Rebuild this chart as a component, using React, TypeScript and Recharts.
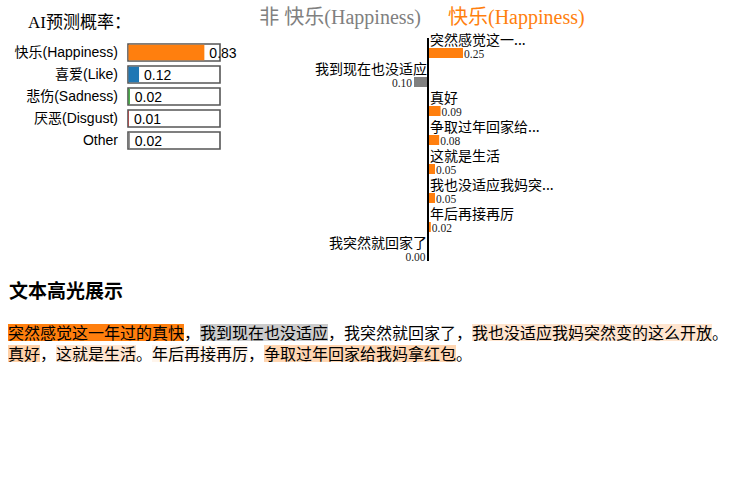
import React from "react";
import { BarChart, Bar, XAxis, YAxis, Cell, LabelList, ReferenceLine } from "recharts";

// ---- data ----
const classNames = ["快乐(Happiness)", "喜爱(Like)", "悲伤(Sadness)", "厌恶(Disgust)", "Other"];
const classProbs = [0.83, 0.12, 0.02, 0.01, 0.02];
const classColors = ["#ff7f0e", "#1f77b4", "#2ca02c", "#d62728", "#7f7f7f"];

const featureNames = [
  "突然感觉这一...",
  "我到现在也没适应",
  "真好",
  "争取过年回家给...",
  "这就是生活",
  "我也没适应我妈突...",
  "年后再接再厉",
  "我突然就回家了",
];
const featureWeights = [0.25, -0.1, 0.09, 0.08, 0.05, 0.05, 0.02, -0.003];

const predTitle = "AI预测概率：";
const negativeTitle = "非 快乐(Happiness)";
const positiveTitle = "快乐(Happiness)";
const highlightTitle = "文本高光展示";

// text segments: [text, feature index or -1]
const textLine1: [string, number][] = [
  ["突然感觉这一年过的真快", 0],
  ["，", -1],
  ["我到现在也没适应", 1],
  ["，", -1],
  ["我突然就回家了", 7],
  ["，", -1],
  ["我也没适应我妈突然变的这么开放", 5],
  ["。", -1],
];
const textLine2: [string, number][] = [
  ["真好", 2],
  ["，", -1],
  ["这就是生活", 4],
  ["。", -1],
  ["年后再接再厉", 6],
  ["，", -1],
  ["争取过年回家给我妈拿红包", 3],
  ["。", -1],
];

// ---- styles ----
const SANS = '"Liberation Sans", Arial, "Noto Sans CJK SC", sans-serif';
const CJK = '"Noto Sans CJK SC", "Noto Sans", sans-serif';
const SERIF = '"Liberation Serif", "Times New Roman", "Noto Sans CJK SC", serif';
const POS = "#ff7f0e";
const NEG = "#808080";

const probData = classNames.map((name, i) => ({ name, p: classProbs[i] }));
const featData = featureNames.map((name, i) => ({ name, w: featureWeights[i] }));
const maxAbs = Math.max(...featureWeights.map((w) => Math.abs(w)));

const InsetBar = (props: any) => {
  const { x, y, width, height, fill } = props;
  if (!width || width <= 0) return null;
  return <rect x={x + 0.5} y={y + 0.75} width={Math.max(width - 0.5, 0.5)} height={height - 1.5} fill={fill} />;
};

const ProbLabel = (props: any) => {
  const { x, y, width, height, value } = props;
  return (
    <text x={Number(x) + Number(width) + 5} y={Number(y) + Number(height) / 2 + 5} fontSize={14} fontFamily={SANS} fill="#000">
      {Number(value).toFixed(2)}
    </text>
  );
};

const FeatureLabel = (props: any) => {
  const { x, y, width, height, index } = props;
  const v = featureWeights[index];
  const nx = Number(x);
  const nw = Number(width);
  const ny = Number(y);
  const nh = Number(height);
  const left = Math.min(nx, nx + nw);
  const right = Math.max(nx, nx + nw);
  const pos = v > 0;
  const zero = pos ? left : right;
  return (
    <g>
      <text
        x={pos ? zero + 2 : zero - 1}
        y={ny - 3}
        textAnchor={pos ? "start" : "end"}
        fontSize={14}
        fontFamily={CJK}
        fill="#000"
      >
        {featureNames[index]}
      </text>
      <text
        x={pos ? right + 1 : left - 2}
        y={ny + nh - 0.5}
        textAnchor={pos ? "start" : "end"}
        fontSize={11.5}
        fontFamily={SERIF}
        fill="#222"
      >
        {Math.abs(v).toFixed(2)}
      </text>
    </g>
  );
};

const segBg = (idx: number) => {
  if (idx < 0) return "transparent";
  const w = featureWeights[idx];
  const a = Math.abs(w) / maxAbs;
  return w > 0 ? `rgba(255,127,14,${a})` : `rgba(128,128,128,${a})`;
};

const renderLine = (line: [string, number][], key: number) => (
  <div key={key} style={{ height: 21, lineHeight: "17px", whiteSpace: "nowrap", overflow: "visible" }}>
    {line.map(([t, idx], i) => (
      <span
        key={i}
        style={{
          display: "inline-block",
          verticalAlign: "top",
          height: 17,
          lineHeight: "17px",
          background: segBg(idx),
        }}
      >
        {t}
      </span>
    ))}
  </div>
);

export default function App() {
  return (
    <div style={{ position: "absolute", left: 0, top: 0, width: 750, height: 500, background: "#fff" }}>
      <svg style={{ position: "absolute", left: 0, top: 0 }} width={750} height={40}>
        <text x={28} y={28} fontSize={17} fontFamily={SERIF} fill="#000">
          {predTitle}
        </text>
        <text x={421} y={24} fontSize={20} fontFamily={SERIF} fill={NEG} textAnchor="end">
          {negativeTitle}
        </text>
        <text x={448} y={24} fontSize={20} fontFamily={SERIF} fill={POS} textAnchor="start">
          {positiveTitle}
        </text>
      </svg>

      <div style={{ position: "absolute", left: 0, top: 0 }}>
        <BarChart
          width={250}
          height={160}
          layout="vertical"
          data={probData}
          margin={{ top: 41, right: 30, bottom: 9, left: 0 }}
          barCategoryGap={0}
        >
          <XAxis type="number" domain={[0, 1]} hide />
          <YAxis
            type="category"
            dataKey="name"
            width={128}
            axisLine={false}
            tickLine={false}
            tickMargin={4}
            interval={0}
            tick={{ fontSize: 14, fill: "#000", fontFamily: SANS }}
          />
          <Bar
            dataKey="p"
            barSize={17}
            isAnimationActive={false}
            background={{ fill: "#fff", stroke: "#555", strokeWidth: 1.6 }}
            shape={InsetBar}
          >
            {probData.map((d, i) => (
              <Cell key={i} fill={classColors[i]} />
            ))}
            <LabelList dataKey="p" content={ProbLabel} />
          </Bar>
        </BarChart>
      </div>

      <div style={{ position: "absolute", left: 280, top: 0 }}>
        <BarChart
          width={300}
          height={275}
          layout="vertical"
          data={featData}
          margin={{ top: 38, right: 12, bottom: 14, left: 8 }}
          barCategoryGap={0}
        >
          <XAxis type="number" domain={[-1, 1]} hide allowDataOverflow />
          <YAxis type="category" dataKey="name" hide padding={{ top: 0, bottom: -9 }} />
          <Bar dataKey="w" barSize={10} isAnimationActive={false}>
            {featData.map((d, i) => (
              <Cell key={i} fill={d.w > 0 ? POS : NEG} />
            ))}
            <LabelList dataKey="w" content={FeatureLabel} />
          </Bar>
          <ReferenceLine x={0} stroke="#000" strokeWidth={2} />
        </BarChart>
      </div>

      <div
        style={{
          position: "absolute",
          left: 9,
          top: 276,
          fontSize: 19,
          fontWeight: "bold",
          fontFamily: CJK,
          color: "#000",
          whiteSpace: "nowrap",
        }}
      >
        {highlightTitle}
      </div>

      <div style={{ position: "absolute", left: 8, top: 324, fontSize: 16, fontFamily: CJK, color: "#000" }}>
        {renderLine(textLine1, 0)}
        {renderLine(textLine2, 1)}
      </div>
    </div>
  );
}
